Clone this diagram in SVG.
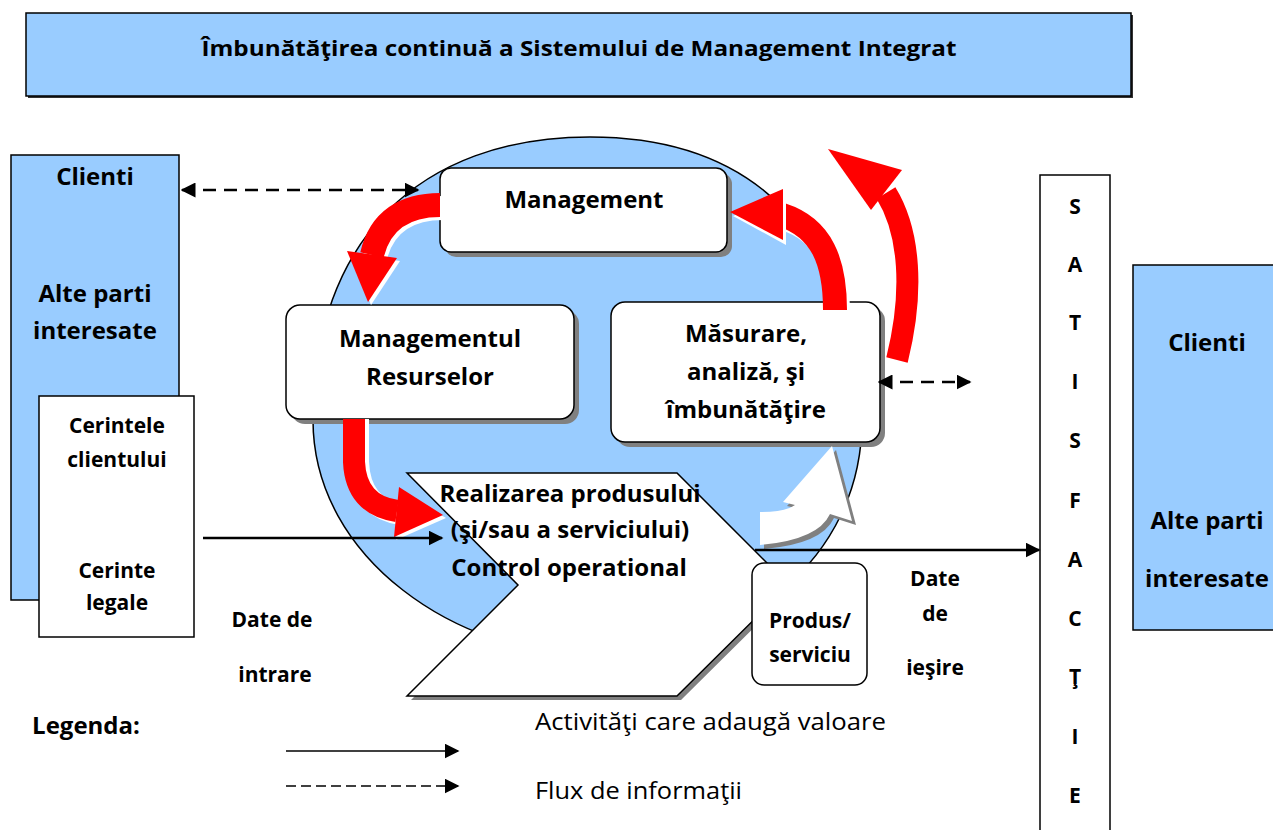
<svg xmlns="http://www.w3.org/2000/svg" width="1273" height="830" viewBox="0 0 1273 830">
<style>
text{font-family:"Open Sans","Liberation Sans",sans-serif;fill:#000;text-anchor:middle}
.b{font-weight:bold}
.t24{font-size:24px;font-weight:bold}
.t21{font-size:21px;font-weight:bold}
.blue{fill:#99CCFF;stroke:#000;stroke-width:1.5}
.wbox{fill:#fff;stroke:#000;stroke-width:1.5}
.shadow{fill:#808080}
.red{fill:none;stroke:#FF0000;stroke-linecap:butt}
.redh{fill:#FF0000}
.wsh{fill:none;stroke:#fff;stroke-linecap:butt}
.sol{fill:none;stroke:#000;stroke-width:2.5}
.dash{fill:none;stroke:#000;stroke-width:2.5;stroke-dasharray:13 8}
.ldash{fill:none;stroke:#000;stroke-width:1.5;stroke-dasharray:10 5}
.lsol{fill:none;stroke:#000;stroke-width:1.5}
</style>
<defs>
<marker id="ah" viewBox="0 0 10 10" refX="9" refY="5" markerWidth="6" markerHeight="6" orient="auto-start-reverse" markerUnits="strokeWidth">
<path d="M0,0 L10,5 L0,10 Z" fill="#000"/>
</marker>
<marker id="ahl" viewBox="0 0 10 10" refX="9" refY="5" markerWidth="10" markerHeight="10" orient="auto-start-reverse" markerUnits="strokeWidth">
<path d="M0,0 L10,5 L0,10 Z" fill="#000"/>
</marker>
</defs>
<rect width="1273" height="830" fill="#fff"/>

<g id="title">
<rect x="28" y="15" width="1105" height="83" fill="#333"/>
<rect x="26" y="13" width="1105" height="83" class="blue"/>
<text x="579" y="56" class="b" style="font-size:21px" textLength="755" lengthAdjust="spacingAndGlyphs">Îmbunătăţirea continuă a Sistemului de Management Integrat</text>
</g>

<g id="cycle">
<path d="M313,420 C313,240 420,137 590,137 C760,137 852,240 862,420 C862,560 740,655 590,655 C460,655 313,560 313,420 Z" class="blue"/>
</g>

<g id="clienti-stanga">
<rect x="11" y="155" width="168" height="445" class="blue"/>
<text x="95" y="185" class="t24">Clienti</text>
<text x="95" y="302" class="t24">Alte parti</text>
<text x="95" y="339" class="t24">interesate</text>
</g>

<g id="cerinte">
<rect x="39" y="396" width="155" height="241" class="wbox"/>
<text x="117" y="433" class="t21">Cerintele</text>
<text x="117" y="467" class="t21">clientului</text>
<text x="117" y="578" class="t21">Cerinte</text>
<text x="117" y="610" class="t21">legale</text>
</g>

<g id="realizare">
<path d="M411,477 L681,477 L793,589 L681,700 L411,700 L522,589 Z" class="shadow"/>
<path d="M407,473 L677,473 L789,585 L677,696 L407,696 L518,585 Z" class="wbox"/>
<text x="570" y="502" class="t24">Realizarea produsului</text>
<text x="570" y="538" class="t24">(şi/sau a serviciului)</text>
<text x="569" y="576" class="t24">Control operational</text>
</g>

<g id="produs">
<rect x="752" y="563" width="115" height="122" rx="12" class="wbox"/>
<text x="810" y="628" class="t21">Produs/</text>
<text x="810" y="662" class="t21">serviciu</text>
</g>

<g id="management">
<rect x="445" y="173" width="287" height="84" rx="11" class="shadow"/>
<rect x="440" y="168" width="287" height="84" rx="11" class="wbox"/>
<text x="584" y="208" class="t24">Management</text>
</g>

<g id="resurse">
<rect x="291" y="310" width="288" height="114" rx="14" class="shadow"/>
<rect x="286" y="305" width="288" height="114" rx="14" class="wbox"/>
<text x="430" y="347" class="t24">Managementul</text>
<text x="430" y="385" class="t24">Resurselor</text>
</g>

<g id="masurare">
<rect x="616" y="307" width="269" height="140" rx="14" class="shadow"/>
<rect x="611" y="302" width="269" height="140" rx="14" class="wbox"/>
<text x="746" y="342" class="t24">Măsurare,</text>
<text x="746" y="380" class="t24">analiză, şi</text>
<text x="746" y="418" class="t24">îmbunătăţire</text>
</g>

<g id="satisfactie">
<rect x="1040" y="175" width="70" height="670" class="wbox"/>
<text x="1075" y="214" class="t21">S</text>
<text x="1075" y="272" class="t21">A</text>
<text x="1075" y="330" class="t21">T</text>
<text x="1075" y="389" class="t21">I</text>
<text x="1075" y="448" class="t21">S</text>
<text x="1075" y="508" class="t21">F</text>
<text x="1075" y="567" class="t21">A</text>
<text x="1075" y="626" class="t21">C</text>
<text x="1075" y="684" class="t21">Ţ</text>
<text x="1075" y="744" class="t21">I</text>
<text x="1075" y="803" class="t21">E</text>
</g>

<g id="clienti-dreapta">
<rect x="1133" y="265" width="160" height="365" class="blue"/>
<text x="1207" y="351" class="t24">Clienti</text>
<text x="1207" y="529" class="t24">Alte parti</text>
<text x="1207" y="587" class="t24">interesate</text>
</g>

<g id="labels">
<text x="272" y="627" class="t21">Date de</text>
<text x="275" y="682" class="t21">intrare</text>
<text x="935" y="586" class="t21">Date</text>
<text x="935" y="621" class="t21">de</text>
<text x="935" y="675" class="t21">ieşire</text>
</g>

<g id="connectors">
<path d="M443,208 C408,208 383,223 375,258" class="wsh" stroke-width="24"/>
<path d="M440,205 C405,205 380,220 372,255" class="red" stroke-width="24"/>
<polygon points="351,254 400,261 371,305" fill="#fff"/>
<polygon points="347,251 397,258 368,302" class="redh"/>

<path d="M358,419 L358,462 Q360,508 401,514" class="wsh" stroke-width="22"/>
<path d="M354,419 L354,462 Q356,505 397,511" class="red" stroke-width="22"/>
<polygon points="401,491 396,540 446,518" fill="#fff"/>
<polygon points="399,487 394,537 443,515" class="redh"/>

<path d="M838,310 C838,266 825,232 786,219" class="wsh" stroke-width="24"/>
<path d="M835,310 C835,262 822,228 782,215" class="red" stroke-width="24"/>
<polygon points="786,194 786,245 733,216" fill="#fff"/>
<polygon points="783,189 783,240 730,212" class="redh"/>

<path d="M897,360 C914,292 910,232 886,193" class="red" stroke-width="22"/>
<polygon points="902,170 871,210 828,149" class="redh"/>

<path d="M764,516 Q789,516 799,509 L787,506 L836,450 L856,525 L834,518 Q822,544 764,549 Z" fill="#808080"/>
<path d="M760,512 Q785,512 795,505 L783,502 L832,446 L852,521 L830,514 Q818,540 760,545 Z" fill="#fff"/>

<line x1="182" y1="190" x2="418" y2="190" class="dash" marker-start="url(#ah)" marker-end="url(#ah)"/>
<line x1="879" y1="382" x2="970" y2="382" class="dash" marker-start="url(#ah)" marker-end="url(#ah)"/>
<line x1="203" y1="538" x2="442" y2="538" class="sol" marker-end="url(#ah)"/>
<line x1="755" y1="550" x2="1039" y2="550" class="sol" marker-end="url(#ah)"/>
</g>

<g id="legend">
<text x="86" y="734" class="b" style="font-size:24px">Legenda:</text>
<line x1="286" y1="751" x2="458" y2="751" class="lsol" marker-end="url(#ahl)"/>
<line x1="286" y1="786" x2="458" y2="786" class="ldash" marker-end="url(#ahl)"/>
<text x="535" y="730" style="font-size:23px;text-anchor:start" textLength="351" lengthAdjust="spacingAndGlyphs">Activităţi care adaugă valoare</text>
<text x="535" y="799" style="font-size:23px;text-anchor:start" textLength="207" lengthAdjust="spacingAndGlyphs">Flux de informaţii</text>
</g>
</svg>
